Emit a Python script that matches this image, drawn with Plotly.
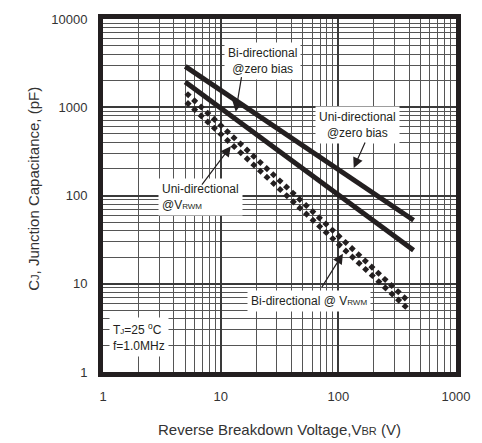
import plotly.graph_objects as go

# ---- data ----
vbr_solid = [5.0, 436.0]
uni_zero_bias = [2900.0, 52.5]
bi_zero_bias = [1930.0, 24.0]

vbr_dashed = [5.1, 390.0]
uni_vrwm = [1450.0, 6.4]
bi_vrwm = [1150.0, 5.2]

x_tick_vals = [1, 10, 100, 1000]
x_tick_text = ["1", "10", "100", "1000"]
y_tick_vals = [1, 10, 100, 1000, 10000]
y_tick_text = ["1", "10", "100", "1000", "10000"]

INK = "#231f20"
FONT = "Liberation Sans, Arial, sans-serif"

fig = go.Figure()
fig.add_trace(go.Scatter(x=vbr_solid, y=uni_zero_bias, mode="lines",
                         line=dict(color=INK, width=5), showlegend=False))
fig.add_trace(go.Scatter(x=vbr_solid, y=bi_zero_bias, mode="lines",
                         line=dict(color=INK, width=5), showlegend=False))
fig.add_trace(go.Scatter(x=vbr_dashed, y=uni_vrwm, mode="lines",
                         line=dict(color=INK, width=5, dash="5px,4px"), showlegend=False))
fig.add_trace(go.Scatter(x=vbr_dashed, y=bi_vrwm, mode="lines",
                         line=dict(color=INK, width=5, dash="5px,4px"), showlegend=False))

# plot-area pixel geometry for placing annotations
L, R, T, B = 103, 462, 14, 372
def px(x):
    return (x - L) / (R - L)
def py(y):
    return (B - y) / (B - T)

small = "font-size:8px"
boxes = [
    # (text, center_x, center_y, align)
    ("Bi-directional<br>@zero bias", 265, 57, "center"),
    ("Uni-directional<br>@zero bias", 362, 121, "center"),
    ("Uni-directional<br>@V<span style='%s'>RWM</span>" % small, 202, 195, "left"),
    ("Bi-directional @ V<span style='%s'>RWM</span>" % small, 312, 300, "center"),
    ("T<span style='%s'>J</span>=25 <sup>o</sup>C<br>f=1.0MHz" % small, 140, 337, "left"),
]
for text, cx, cy, al in boxes:
    fig.add_annotation(text=text, xref="paper", yref="paper", x=px(cx), y=py(cy),
                       xanchor="center", yanchor="middle",
                       showarrow=False, align=al, bgcolor="white",
                       font=dict(family=FONT, size=12, color=INK),
                       borderpad=3)

# arrows: (tip_x, tip_y, tail_x, tail_y)
arrows = [
    (238, 108, 244, 72),
    (358, 165, 370, 138),
    (233, 143, 203, 183),
    (347, 252, 325, 287),
]
for tx, ty, sx, sy in arrows:
    fig.add_annotation(text="", xref="paper", yref="paper", x=px(tx), y=py(ty),
                       ax=sx - tx, ay=sy - ty, showarrow=True, arrowhead=2,
                       arrowsize=1.7, arrowwidth=1.2, arrowcolor=INK)

fig.add_annotation(text="C<span style='font-size:11px'>J</span>, Junction Capacitance, (pF)",
                   xref="paper", yref="paper", x=px(32), y=py(186), textangle=-90,
                   xanchor="center", yanchor="middle",
                   showarrow=False, font=dict(family=FONT, size=15, color="#333"))
fig.add_annotation(text="Reverse Breakdown Voltage,V<span style='font-size:11px'>BR</span> (V)",
                   xref="paper", yref="paper", x=px(282), y=py(430),
                   xanchor="center", yanchor="middle",
                   showarrow=False, font=dict(family=FONT, size=15, color="#333"))

axis_common = dict(
    type="log", showline=True, linewidth=5, linecolor=INK, mirror=True,
    showgrid=True, gridcolor="#3a3a3a", gridwidth=1.5,
    minor=dict(showgrid=True, gridcolor="#555555", gridwidth=1, dtick="D1"),
    ticks="", zeroline=False,
    tickfont=dict(family=FONT, size=13, color="#333"),
)
fig.update_xaxes(range=[0, 3], tickvals=x_tick_vals, ticktext=x_tick_text,
                 ticklabelstandoff=8, **axis_common)
fig.update_yaxes(range=[0, 4], tickvals=y_tick_vals, ticktext=y_tick_text,
                 ticklabelstandoff=8, **axis_common)

fig.update_layout(width=482, height=443, margin=dict(l=L, r=482 - R, t=T, b=443 - B),
                  plot_bgcolor="white", paper_bgcolor="white",
                  font=dict(family=FONT))
fig.write_html("out.html", config={"displayModeBar": False},
               post_script="document.body.style.margin='0px';document.body.style.overflow='hidden';")
